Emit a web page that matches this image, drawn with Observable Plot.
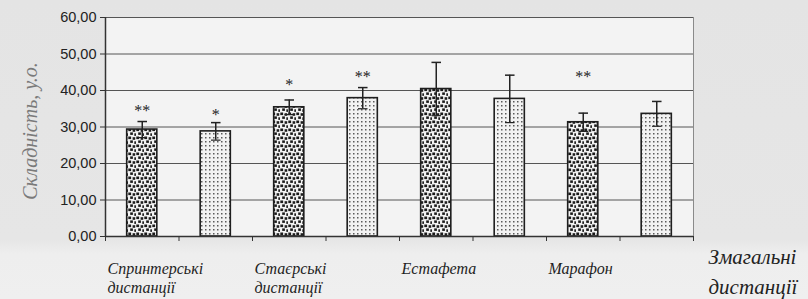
<!DOCTYPE html>
<html>
<head>
<meta charset="utf-8">
<script src="https://cdn.jsdelivr.net/npm/d3@7"></script>
<script src="https://cdn.jsdelivr.net/npm/@observablehq/plot@0.6"></script>
<style>
  html, body { margin: 0; padding: 0; }
  body { width: 808px; height: 299px; overflow: hidden;
    background: linear-gradient(#e4e4e4 0%, #e6e6e6 80%, #eeeeee 85%, #efefef 100%); }
  svg { display: block; }
</style>
</head>
<body>
<div id="chart"></div>
<script>
// Categories (each has two bars)
const groups = ["Спринтерські\nдистанції", "Стаєрські\nдистанції", "Естафета", "Марафон"];
// Series A (dark dotted bars)
const valuesA = [29.3, 35.4, 40.4, 31.3];
const errorsA = [2.2, 2.0, 7.3, 2.5];
const starsA = ["**", "*", "", "**"];
const starLevelA = [35.4, 42.7, null, 44.9];
// Series B (light dotted bars)
const valuesB = [28.8, 37.9, 37.7, 33.6];
const errorsB = [2.4, 2.9, 6.5, 3.4];
const starsB = ["*", "**", "", ""];
const starLevelB = [34.5, 44.9, null, null];
// Axis
const yTicks = [0, 10, 20, 30, 40, 50, 60];
const yTitle = "Складність, у.о.";
const xTitle = "Змагальні\nдистанції";

const rows = [];
groups.forEach((g, gi) => {
  rows.push({slot: gi * 2, group: g, series: "A", value: valuesA[gi], err: errorsA[gi], star: starsA[gi], starY: starLevelA[gi]});
  rows.push({slot: gi * 2 + 1, group: g, series: "B", value: valuesB[gi], err: errorsB[gi], star: starsB[gi], starY: starLevelB[gi]});
});
const groupRows = groups.map((g, gi) => ({slot: gi * 2, label: g}));

const half = 0.205;  // half bar width in slot units
const cap = 0.065;
const serif = "Liberation Serif";
const sans = "Liberation Sans";

const chart = Plot.plot({
  width: 808,
  height: 299,
  marginLeft: 105,
  marginRight: 115,
  marginTop: 17,
  marginBottom: 63,
  style: {background: "transparent", overflow: "visible"},
  x: {type: "linear", domain: [0, 8]},
  y: {domain: [0, 60]},
  marks: [
    Plot.frame({fill: "#f3f3f3", stroke: "#8a8a8a", strokeWidth: 1}),
    Plot.ruleY(yTicks.slice(1), {stroke: "#555", strokeWidth: 1}),
    Plot.rect(rows, {
      x1: d => d.slot + 0.5 - half, x2: d => d.slot + 0.5 + half,
      y1: 0, y2: "value",
      fill: d => d.series === "A" ? "url(#patA)" : "url(#patB)",
      stroke: "#1e1e1e", strokeWidth: 1.6
    }),
    Plot.ruleX(rows, {x: d => d.slot + 0.5, y1: d => d.value - d.err, y2: d => d.value + d.err, stroke: "#222", strokeWidth: 1.5}),
    Plot.link(rows, {x1: d => d.slot + 0.5 - cap, x2: d => d.slot + 0.5 + cap, y1: d => d.value + d.err, y2: d => d.value + d.err, stroke: "#222", strokeWidth: 1.5}),
    Plot.link(rows, {x1: d => d.slot + 0.5 - cap, x2: d => d.slot + 0.5 + cap, y1: d => d.value - d.err, y2: d => d.value - d.err, stroke: "#222", strokeWidth: 1.2}),
    Plot.text(rows.filter(d => d.star), {x: d => d.slot + 0.5, y: "starY", text: "star", fontFamily: serif, fontSize: 16, fill: "#1e1e1e", letterSpacing: 2, dy: 4}),
    Plot.ruleX([0], {stroke: "#333", strokeWidth: 1.5}),
    Plot.ruleY([0], {stroke: "#333", strokeWidth: 1.5}),
    Plot.axisY({ticks: yTicks, tickFormat: d => d.toFixed(2).replace(".", ","), tickSize: 5, tickPadding: 4,
      fontFamily: sans, fontSize: 14.5, fill: "#222", stroke: "#333", label: null}),
    Plot.axisX({ticks: d3.range(0, 9), tickFormat: () => "", tickSize: 5, stroke: "#333", label: null}),
    Plot.text(groupRows, {x: "slot", text: "label", frameAnchor: "bottom", textAnchor: "start", lineAnchor: "top",
      dx: 2, dy: 24, lineHeight: 1.2, fontFamily: serif, fontStyle: "italic", fontSize: 16, letterSpacing: 1.5, fill: "#1e1e1e"}),
    Plot.text([xTitle], {frameAnchor: "bottom-right", textAnchor: "start", lineAnchor: "top", dx: 15, dy: 7,
      lineHeight: 1.4, fontFamily: serif, fontStyle: "italic", fontSize: 21, fill: "#222"}),
    Plot.text([yTitle], {frameAnchor: "left", textAnchor: "middle", rotate: -90, dx: -75, dy: 4, fontFamily: serif, fontStyle: "italic",
      fontSize: 20, letterSpacing: 3.6, fill: "#7a7a7a"})
  ]
});

// make sure the font families are applied as inline styles
chart.querySelectorAll("[font-family]").forEach(el => {
  const f = el.getAttribute("font-family");
  el.style.fontFamily = f === serif ? "'Liberation Serif', 'Times New Roman', serif" : "'Liberation Sans', Arial, sans-serif";
  const st = el.getAttribute("font-style");
  if (st) el.style.fontStyle = st;
});

const ns = "http://www.w3.org/2000/svg";
const defs = document.createElementNS(ns, "defs");
defs.innerHTML = `
  <pattern id="patA" width="8" height="8" patternUnits="userSpaceOnUse">
    <rect width="8" height="8" fill="#f2f2f2"/>
    <rect x="0.3" y="0.5" width="2.8" height="2.6" fill="#1a1a1a"/>
    <rect x="4.6" y="1.2" width="2.6" height="2.6" fill="#1e1e1e"/>
    <rect x="2.2" y="4.4" width="2.7" height="2.5" fill="#1a1a1a"/>
    <rect x="6.3" y="5.3" width="1.7" height="2.6" fill="#222"/>
  </pattern>
  <pattern id="patB" width="4" height="4" patternUnits="userSpaceOnUse">
    <rect width="4" height="4" fill="#f2f2f2"/>
    <rect x="1" y="1" width="1.5" height="1.5" fill="#5a5a5a"/>
  </pattern>`;
chart.insertBefore(defs, chart.firstChild);
document.getElementById("chart").appendChild(chart);
</script>
</body>
</html>
